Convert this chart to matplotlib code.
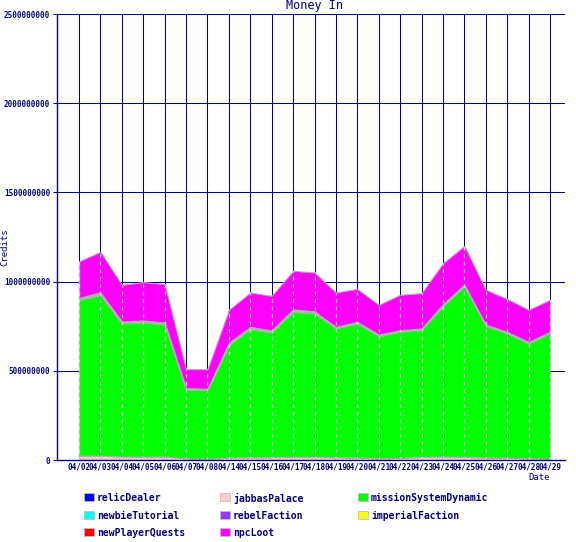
import numpy as np
import matplotlib
matplotlib.use('Agg')
import matplotlib.pyplot as plt
from matplotlib.patches import Rectangle

dates = ['04/02', '04/03', '04/04', '04/05', '04/06', '04/07', '04/08', '04/14',
         '04/15', '04/16', '04/17', '04/18', '04/19', '04/20', '04/21', '04/22',
         '04/23', '04/24', '04/25', '04/26', '04/27', '04/28', '04/29']

# values in millions of credits
relicDealer = [0.3] * 23
jabbasPalace = [24, 24, 19, 18, 19, 9, 6, 13, 15, 15, 18, 17, 15, 13, 9, 11,
                17, 19, 17, 13, 13, 9, 7]
missionSystemDynamic = [873, 901, 747, 754, 741, 387, 386, 632, 719, 701, 813,
                        805, 723, 753, 686, 708, 712, 844, 958, 738, 697, 645, 703]
newbieTutorial = [0.5] * 23
rebelFaction = [5, 6, 4, 4, 4, 3, 3, 5, 5, 4, 5, 4, 3, 3, 3, 3, 3, 4, 3, 3, 3, 3, 3]
imperialFaction = [6, 7, 5, 5, 5, 3, 3, 6, 6, 5, 7, 6, 4, 4, 4, 4, 4, 5, 4, 4,
                   4, 4, 4]
newPlayerQuests = [0.5] * 23
npcLoot = [204, 228, 206, 215, 216, 106, 110, 185, 193, 194, 216, 218, 193, 185,
           167, 199, 198, 230, 217, 195, 185, 180, 180]

names = ['relicDealer', 'jabbasPalace', 'missionSystemDynamic', 'newbieTutorial',
         'rebelFaction', 'imperialFaction', 'newPlayerQuests', 'npcLoot']
series = [relicDealer, jabbasPalace, missionSystemDynamic, newbieTutorial,
          rebelFaction, imperialFaction, newPlayerQuests, npcLoot]
colors = ['#0000ff', '#ffcccc', '#00ff00', '#00ffff', '#9933ff', '#ffff00',
          '#ff0000', '#ff00ff']

navy = '#000080'
mono = 'DejaVu Sans Mono'

x = np.arange(len(dates))
ys = np.array(series) * 1e6

fig = plt.figure(figsize=(5.76, 5.42), dpi=100)
ax = fig.add_axes([57 / 576, 1 - 460 / 542, 508 / 576, 446 / 542])

# grid behind the areas
for xi in x:
    ax.axvline(xi, color=navy, linewidth=0.75, zorder=0)
for yv in np.arange(500e6, 2500e6 + 1, 500e6):
    ax.axhline(yv, color=navy, linewidth=0.75, zorder=0)

ax.stackplot(x, ys, colors=colors, edgecolor='#b0b0b0', linewidth=0.8, zorder=2)

# dashed lines over the filled area
total = ys.sum(axis=0)
ax.vlines(x, 0, total, colors='#d0d0d0', linestyles=(0, (3, 3)),
          linewidth=0.9, zorder=3)

ax.set_xlim(-1.03, 22.7)
ax.set_ylim(0, 2500e6)
ax.set_yticks(np.arange(0, 2500e6 + 1, 500e6))
ax.set_yticklabels(['0', '500000000', '1000000000', '1500000000', '2000000000',
                    '2500000000'])
ax.set_xticks(x)
ax.set_xticklabels(dates)

for lab in ax.get_xticklabels() + ax.get_yticklabels():
    lab.set_fontfamily(mono)
    lab.set_fontweight('bold')
    lab.set_fontsize(5.5)
    lab.set_color(navy)
ax.tick_params(axis='y', length=3, width=0.75, color=navy, pad=2)
ax.tick_params(axis='x', length=0, pad=2)

for s in ['top', 'right']:
    ax.spines[s].set_visible(False)
for s in ['left', 'bottom']:
    ax.spines[s].set_color(navy)
    ax.spines[s].set_linewidth(1)
    ax.spines[s].set_zorder(5)

fig.text(314 / 576, 1 - 5 / 542, 'Money In', family=mono, fontsize=8.5,
         color=navy, ha='center', va='center')
fig.text(5 / 576, 1 - 247 / 542, 'Credits', family=mono, fontsize=6.5,
         color=navy, ha='center', va='center', rotation=90)
fig.text(539 / 576, 1 - 478 / 542, 'Date', family=mono, fontsize=6.5,
         color=navy, ha='center', va='center')

# legend laid out in three columns like the original
col_x = [84, 220, 358]
row_y = [497, 515, 532]
for i, (name, c) in enumerate(zip(names, colors)):
    cx = col_x[i % 3]
    cy = row_y[i // 3]
    fig.patches.append(Rectangle((cx / 576, 1 - (cy + 4) / 542), 10 / 576, 8 / 542,
                                 transform=fig.transFigure, facecolor=c,
                                 edgecolor='#c0c0c0', linewidth=0.6))
    fig.text((cx + 13) / 576, 1 - cy / 542, name, family=mono, fontweight='bold',
             fontsize=7, color=navy, ha='left', va='center_baseline')

fig.savefig('out.png', dpi=100)
